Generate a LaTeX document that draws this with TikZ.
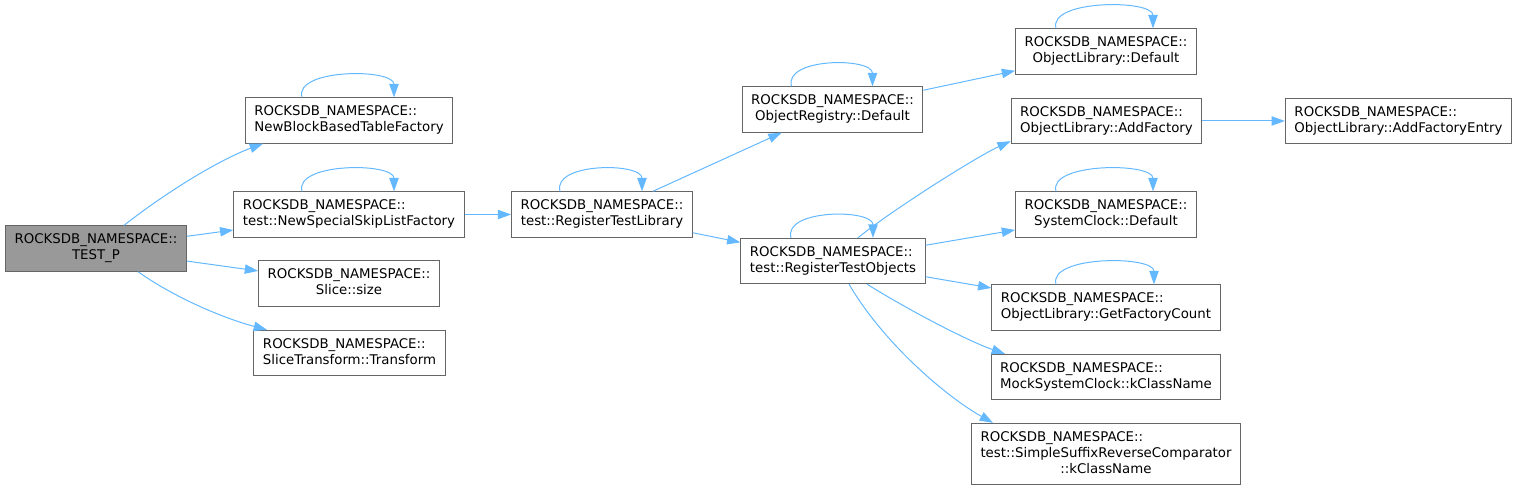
\documentclass[tikz,border=0pt]{standalone}
\usepackage{fontspec}
\setmainfont{DejaVu Sans}
\usepackage{tikz}
\usetikzlibrary{arrows.meta, positioning, calc}
\usepackage{xcolor}
\definecolor{callblue}{RGB}{99,184,255}
\definecolor{boxgray}{RGB}{102,102,102}
\definecolor{rootgray}{RGB}{153,153,153}
% first line left, last line centred
\newcommand{\fnlabel}[2]{\begin{tabular}{@{}l@{}}#1\\\multicolumn{1}{@{}c@{}}{#2}\end{tabular}}
\newcommand{\fnlabelthree}[3]{\begin{tabular}{@{}l@{}}#1\\#2\\\multicolumn{1}{@{}c@{}}{#3}\end{tabular}}
\newcommand{\rns}{ROCKSDB\_NAMESPACE::}

\begin{document}
\begin{tikzpicture}[x=0.75pt, y=-0.75pt,
    fnbox/.style={draw=boxgray, line width=0.75pt, fill=white, inner xsep=6.8pt,
      inner ysep=5pt, minimum height=33.75pt, font=\fontsize{10}{12}\selectfont},
    rootbox/.style={fnbox, fill=rootgray},
    call/.style={draw=callblue, line width=0.75pt,
      -{Triangle[length=10pt, width=7pt]}}]
  \useasboundingbox (0,0) rectangle (1516,491);
  % Function boxes
  \node[rootbox] (testp) at (96,248.5) {\fnlabel{\rns}{TEST\_P}};
  \node[fnbox] (nbbtf) at (349,120.5) {\fnlabel{\rns}{NewBlockBasedTableFactory}};
  \node[fnbox] (skiplist) at (349,214.5) {\fnlabel{\rns}{test::NewSpecialSkipListFactory}};
  \node[fnbox] (slicesize) at (349,283.5) {\fnlabel{\rns}{Slice::size}};
  \node[fnbox] (slicetrans) at (349.5,353) {\fnlabel{\rns}{SliceTransform::Transform}};
  \node[fnbox] (reglib) at (602,214.5) {\fnlabel{\rns}{test::RegisterTestLibrary}};
  \node[fnbox] (objreg) at (832.5,109.5) {\fnlabel{\rns}{ObjectRegistry::Default}};
  \node[fnbox] (regobjs) at (833,261) {\fnlabel{\rns}{test::RegisterTestObjects}};
  \node[fnbox] (objlibdef) at (1106,51.5) {\fnlabel{\rns}{ObjectLibrary::Default}};
  \node[fnbox] (addfac) at (1106.5,121) {\fnlabel{\rns}{ObjectLibrary::AddFactory}};
  \node[fnbox] (addentry) at (1398.5,121) {\fnlabel{\rns}{ObjectLibrary::AddFactoryEntry}};
  \node[fnbox] (clockdef) at (1106,214.5) {\fnlabel{\rns}{SystemClock::Default}};
  \node[fnbox] (getcount) at (1106,307.5) {\fnlabel{\rns}{ObjectLibrary::GetFactoryCount}};
  \node[fnbox] (mockname) at (1106,377) {\fnlabel{\rns}{MockSystemClock::kClassName}};
  \node[fnbox] (cmpname) at (1106,454) {\fnlabelthree{\rns}{test::SimpleSuffixReverseComparator}{::kClassName}};
  % Calls
  \draw[call] ($(testp.north)+(28,0)$) .. controls +(46,-36) and +(-41,15) .. ($(nbbtf.south)+(-86,0)$);
  \draw[call] (testp) -- (skiplist);
  \draw[call] (testp) -- (slicesize);
  \draw[call] ($(testp.south)+(42,0)$) .. controls +(35,25) and +(-45,-12) .. ($(slicetrans.north)+(-82.5,0)$);
  \draw[call] (skiplist) -- (reglib);
  \draw[call] (reglib) -- (objreg);
  \draw[call] (reglib) -- (regobjs);
  \draw[call] (objreg) -- (objlibdef);
  \draw[call] ($(regobjs.north)+(25,0)$) .. controls +(30,-25) and +(-35,16) .. ($(addfac.south west)+(0,-3)$);
  \draw[call] (addfac) -- (addentry);
  \draw[call] (regobjs) -- (clockdef);
  \draw[call] (regobjs) -- (getcount);
  \draw[call] ($(regobjs.south)+(34,0)$) .. controls +(45,28) and +(-35,-12) .. ($(mockname.north)+(-101,0)$);
  \draw[call] ($(regobjs.south)+(16,0)$) .. controls +(35,60) and +(-45,-25) .. ($(cmpname.north)+(-113,0)$);
  % Recursive calls
  \foreach \n/\l/\r in {nbbtf/47/45, skiplist/47/45, reglib/42/40, objreg/41/40,
                        regobjs/42/40, objlibdef/50/47, clockdef/50/47, getcount/50/48} {
    \draw[call] ($(\n.north)+(-\l,0)$) .. controls +(-8,-29) and +(0,-29) .. ($(\n.north)+(\r,0)$);
  }
\end{tikzpicture}
\end{document}
